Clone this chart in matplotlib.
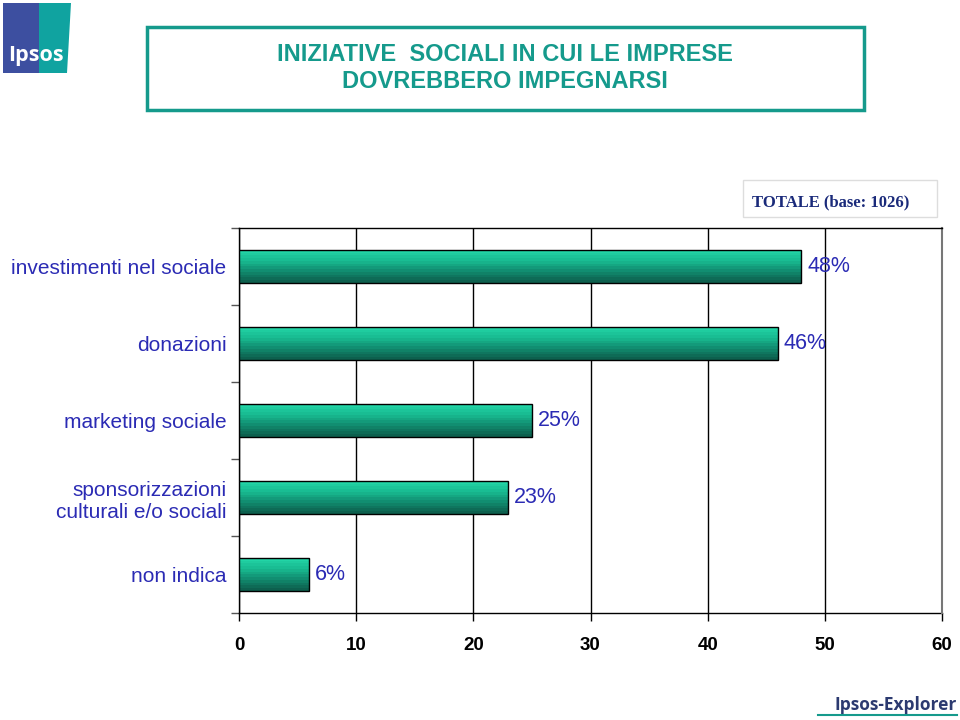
import numpy as np
import matplotlib.pyplot as plt
from matplotlib.colors import LinearSegmentedColormap
from matplotlib.patches import Rectangle, Polygon

# dati
categorie = ['investimenti nel sociale', 'donazioni', 'marketing sociale',
             'sponsorizzazioni\nculturali e/o sociali', 'non indica']
valori = [48, 46, 25, 23, 6]
etichette = ['48%', '46%', '25%', '23%', '6%']
xticks = [0, 10, 20, 30, 40, 50, 60]

blu = '#2b2bb4'
teal = '#159a8c'

fig = plt.figure(figsize=(9.6, 7.2), dpi=100)
ax = fig.add_axes([239/960, 1-613/720, (942-239)/960, (613-228)/720])

# barre con sfumatura a bande
cmap = LinearSegmentedColormap.from_list('verde', ['#22d4a6', '#18b88f', '#118a6e', '#0d604e'])
bande = np.linspace(0, 1, 12).reshape(-1, 1)
h = 0.42
for i, v in enumerate(valori):
    ax.imshow(bande, cmap=cmap, aspect='auto', interpolation='nearest',
              extent=(0, v, i + h/2, i - h/2), zorder=3)
    ax.add_patch(Rectangle((0, i - h/2), v, h, fill=False, edgecolor='black', lw=1, zorder=4))
    ax.text(v + 0.5, i, etichette[i], va='center', ha='left', color=blu,
            fontsize=15.5, family='Liberation Sans', zorder=5)

ax.set_xlim(0, 60)
ax.set_ylim(4.5, -0.5)
ax.set_xticks(xticks)
ax.set_xticklabels([str(t) for t in xticks], fontsize=13.5, fontweight='bold', family='Liberation Sans')
ax.set_yticks(range(len(categorie)))
ax.set_yticklabels(categorie, fontsize=15, color=blu, family='Liberation Sans', linespacing=1.25)
ax.set_yticks(np.arange(-0.5, 5, 1), minor=True)
ax.tick_params(axis='y', which='major', length=0, pad=9)
ax.tick_params(axis='y', which='minor', length=6, width=1, color='#555555')
ax.tick_params(axis='x', length=6, width=1, pad=11)
ax.grid(axis='x', color='black', lw=1, zorder=1)
for s in ['left', 'bottom', 'top']:
    ax.spines[s].set_color('black')
    ax.spines[s].set_linewidth(1)
ax.spines['right'].set_color('#777777')
ax.spines['right'].set_linewidth(1.5)
ax.spines['bottom'].set_visible(False)
ax.axhline(4.5, color='black', lw=1, zorder=2, clip_on=False)

# riquadro del titolo
fig.patches.append(Rectangle((147/960, 1-110/720), (864-147)/960, 83/720, transform=fig.transFigure,
                             fill=False, edgecolor=teal, lw=2.5))
fig.text(505/960, 1-68/720, 'INIZIATIVE  SOCIALI IN CUI LE IMPRESE\nDOVREBBERO IMPEGNARSI',
         ha='center', va='center', color=teal, fontsize=17, fontweight='bold',
         family='Liberation Sans', linespacing=1.2)

# riquadro TOTALE
fig.patches.append(Rectangle((743/960, 1-217/720), 194/960, 37/720, transform=fig.transFigure,
                             fill=False, edgecolor='#dddddd', lw=1))
fig.text(831/960, 1-202/720, 'TOTALE (base: 1026)', ha='center', va='center',
         color='#1a2a7a', fontsize=12, fontweight='bold', family='Liberation Serif')

# logo Ipsos
fig.patches.append(Rectangle((3/960, 1-73/720), 36/960, 70/720, transform=fig.transFigure,
                             facecolor='#3d4fa0', edgecolor='none'))
fig.patches.append(Polygon([(39/960, 1-3/720), (71/960, 1-3/720), (67/960, 1-73/720), (39/960, 1-73/720)],
                           closed=True, transform=fig.transFigure, facecolor='#10a3a0', edgecolor='none'))
fig.text(36/960, 1-55/720, 'Ipsos', ha='center', va='center', color='white', fontsize=15.5,
         fontweight='bold', family='Open Sans')

# logo Ipsos-Explorer
fig.text(957/960, 1-705/720, 'Ipsos-Explorer', ha='right', va='center', color='#2c3a70',
         fontsize=12.5, fontweight='bold', family='Open Sans')
fig.lines.append(plt.Line2D([818/960, 957/960], [1-715/720, 1-715/720], transform=fig.transFigure,
                            color=teal, lw=1.5))

fig.savefig('out.png', dpi=100)
